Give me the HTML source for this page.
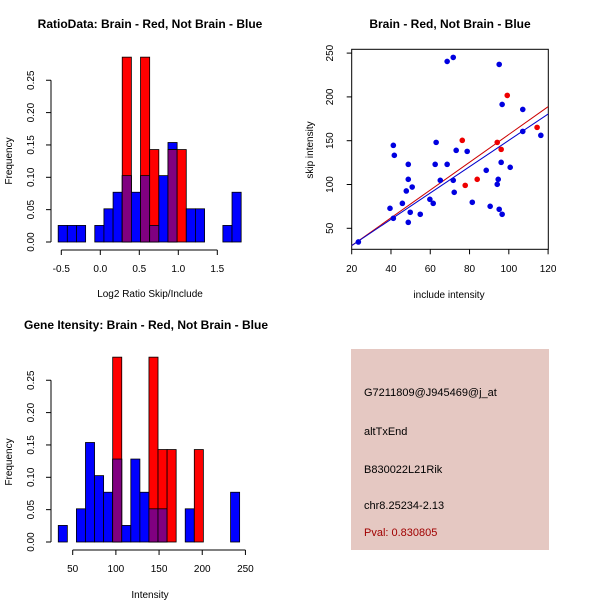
<!DOCTYPE html>
<html><head><meta charset="utf-8"><style>
body{margin:0;background:#fff}
svg{display:block;font-family:"Liberation Sans",Arial,sans-serif}
</style></head><body>
<svg id="chart" width="600" height="600" viewBox="0 0 600 600">
<rect width="600" height="600" fill="#fff"/>
<g font-weight="bold" font-size="12" text-anchor="middle">
<text x="150" y="28">RatioData: Brain - Red, Not Brain - Blue</text>
<text x="450" y="28">Brain - Red, Not Brain - Blue</text>
<text x="146" y="329">Gene Itensity: Brain - Red, Not Brain - Blue</text>
</g>
<g font-size="10" text-anchor="middle">
<text x="150" y="297">Log2 Ratio Skip/Include</text>
<text x="150" y="598">Intensity</text>
<text x="449" y="298">include intensity</text>
<text transform="translate(12,161) rotate(-90)">Frequency</text>
<text transform="translate(12,462) rotate(-90)">Frequency</text>
<text transform="translate(313,150) rotate(-90)">skip intensity</text>
</g>
<g id="h1"></g><g id="h2"></g><g id="sc"></g>
<g>
<rect x="351" y="349" width="198" height="201" fill="#e5c8c2"/>
<g font-size="11">
<text x="364" y="396">G7211809@J945469@j_at</text>
<text x="364" y="435">altTxEnd</text>
<text x="364" y="473">B830022L21Rik</text>
<text x="364" y="509">chr8.25234-2.13</text>
<text x="364" y="536" fill="#a00000">Pval: 0.830805</text>
</g></g>
</svg>
<script>
// Ratio histogram data
const ratioBinStart = -0.54;
const ratioBinWidth = 0.1173;
const ratioBlue = [0.0256,0.0256,0.0256,0,0.0256,0.0513,0.0769,0.1026,0.0769,0.1026,0.0256,0.1026,0.1538,0,0.0513,0.0513,0,0,0.0256,0.0769];
const ratioRed  = [0,0,0,0,0,0,0,0.2857,0,0.2857,0.1429,0,0.1429,0.1429,0,0,0,0,0,0];
const ratioXTicks = [-0.5,0,0.5,1,1.5];
const ratioXTickLabels = ["-0.5","0.0","0.5","1.0","1.5"];
// Intensity histogram data
const intBinStart = 33.3;
const intBinWidth = 10.5;
const intBlue = [0.0256,0,0.0513,0.1538,0.1026,0.0769,0.1282,0.0256,0.1282,0.0769,0.0513,0.0513,0,0,0.0513,0,0,0,0,0.0769];
const intRed  = [0,0,0,0,0,0,0.2857,0,0,0,0.2857,0.1429,0.1429,0,0,0.1429,0,0,0,0];
const intXTicks = [50,100,150,200,250];
const freqTicks = [0,0.05,0.1,0.15,0.2,0.25];
const freqTickLabels = ["0.00","0.05","0.10","0.15","0.20","0.25"];
// Scatter data
const blueX = [23.4,39.5,41.2,41.2,41.7,45.8,47.8,48.8,48.8,48.8,49.8,50.8,54.9,59.8,61.5,63,62.5,65.1,68.6,71.7,68.6,71.7,72.2,73.2,78.8,81.4,88.5,90.5,94.1,94.6,95.1,95.1,96.1,96.6,96.6,100.7,107.1,107.1,116.3];
const blueY = [34.4,72.8,61.4,144.7,133.3,78.5,92.6,56.8,105.9,123,68.3,97.1,66,83.1,78.5,148.1,123,104.8,240.5,245.1,123,104.8,91.1,139,137.8,79.7,116.2,75.1,100.2,105.9,237.1,71.7,125.3,191.4,66,119.6,185.7,160.6,156.1];
const redX = [76.3,77.8,83.9,94.1,96.1,99.2,114.4];
const redY = [150.4,99,105.9,148.1,140.1,201.7,165.2];
const fitRed = [-1.5,1.586];   // intercept, slope
const fitBlue = [0.2,1.502];
const scXTicks = [20,40,60,80,100,120];
const scYTicks = [50,100,150,200,250];

const NS="http://www.w3.org/2000/svg";
function mk(p,t,a){const e=document.createElementNS(NS,t);for(const k in a)e.setAttribute(k,a[k]);p.appendChild(e);return e;}

function hist(g,opt){
  const X=v=>opt.x0+(v-opt.v0)*opt.kx, Y=v=>opt.y0-v*opt.ky;
  for(let i=0;i<opt.blue.length;i++){
    const a=opt.start+i*opt.w, b=a+opt.w;
    const bl=opt.blue[i], rd=opt.red[i];
    if(bl>0){const r=mk(g,'rect',{x:X(a),y:Y(bl),width:X(b)-X(a),height:Y(0)-Y(bl),fill:'#0000ff',stroke:'#000','stroke-width':0.8});
      
      }
    if(rd>0){const r=mk(g,'rect',{x:X(a),y:Y(rd),width:X(b)-X(a),height:Y(0)-Y(rd),fill:'#ff0000',stroke:'#000','stroke-width':0.8});
      
      
      const m=Math.min(bl,rd);
      if(m>0){const p=mk(g,'rect',{x:X(a),y:Y(m),width:X(b)-X(a),height:Y(0)-Y(m),fill:'#800080',stroke:'#000','stroke-width':0.8});
        
        }}
  }
  const ya=mk(g,'g',{});
  
  
  mk(ya,'line',{x1:opt.yx,x2:opt.yx,y1:Y(0),y2:Y(0.25),stroke:'#000'});
  freqTicks.forEach((t,i)=>{mk(ya,'line',{x1:opt.yx-5,x2:opt.yx,y1:Y(t),y2:Y(t),stroke:'#000'});
    const tx=mk(ya,'text',{transform:`translate(${opt.yx-17},${Y(t)}) rotate(-90)`,'font-size':10,'text-anchor':'middle'});tx.textContent=freqTickLabels[i];});
  const xa=mk(g,'g',{});
  
  
  const tk=opt.ticks;
  mk(xa,'line',{x1:X(tk[0]),x2:X(tk[tk.length-1]),y1:opt.xy,y2:opt.xy,stroke:'#000'});
  tk.forEach((t,i)=>{mk(xa,'line',{x1:X(t),x2:X(t),y1:opt.xy,y2:opt.xy+5,stroke:'#000'});
    const tx=mk(xa,'text',{x:X(t),y:opt.xy+22,'font-size':10,'text-anchor':'middle'});tx.textContent=opt.labels[i];});
}
const g1=document.getElementById('h1');


hist(g1,{x0:61.3,v0:-0.5,kx:78,y0:242,ky:647,start:ratioBinStart,w:ratioBinWidth,blue:ratioBlue,red:ratioRed,yx:51,xy:250,ticks:ratioXTicks,labels:ratioXTickLabels});
const g2=document.getElementById('h2');


hist(g2,{x0:72.7,v0:50,kx:0.8636,y0:542,ky:647,start:intBinStart,w:intBinWidth,blue:intBlue,red:intRed,yx:51,xy:550,ticks:intXTicks,labels:intXTicks.map(String)});

const sc=document.getElementById('sc');


const SX=v=>351.7+(v-20)*1.964, SY=v=>228.3-(v-50)*0.876;
const box=mk(sc,'rect',{x:351.7,y:49.3,width:196.6,height:200,fill:'none',stroke:'#000'});


const xs=mk(sc,'g',{});


scXTicks.forEach(t=>{mk(xs,'line',{x1:SX(t),x2:SX(t),y1:249.3,y2:254.3,stroke:'#000'});
  const tx=mk(xs,'text',{x:SX(t),y:272,'font-size':10,'text-anchor':'middle'});tx.textContent=t;});
const ys=mk(sc,'g',{});


scYTicks.forEach(t=>{mk(ys,'line',{x1:346.7,x2:351.7,y1:SY(t),y2:SY(t),stroke:'#000'});
  const tx=mk(ys,'text',{transform:`translate(333,${SY(t)}) rotate(-90)`,'font-size':10,'text-anchor':'middle'});tx.textContent=t;});
const cl=mk(sc,'clipPath',{id:'clip'});mk(cl,'rect',{x:351.7,y:49.3,width:196.6,height:200});
function fit(f,col,name){const l=mk(sc,'line',{x1:SX(20),y1:SY(f[0]+f[1]*20),x2:SX(120),y2:SY(f[0]+f[1]*120),stroke:col,'stroke-width':1,'clip-path':'url(#clip)'});
  
  }
fit(fitRed,'#cc0000','red-fit-line');
fit(fitBlue,'#0000cc','blue-fit-line');
blueX.forEach((x,i)=>{const c=mk(sc,'circle',{cx:SX(x),cy:SY(blueY[i]),r:2.8,fill:'#0000e0'});
  
  });
redX.forEach((x,i)=>{const c=mk(sc,'circle',{cx:SX(x),cy:SY(redY[i]),r:2.8,fill:'#ee0000'});
  
  });
</script>
</body></html>
